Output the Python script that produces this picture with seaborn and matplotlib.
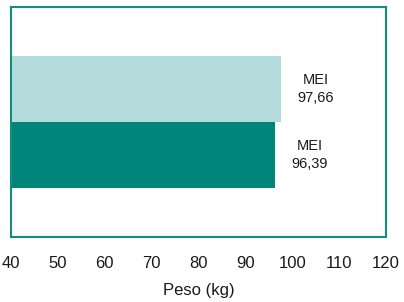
import pandas as pd
import seaborn as sns
import matplotlib.pyplot as plt

grupos = ["A", "B"]
pesos = [97.66, 96.39]
etiquetas = ["MEI\n97,66", "MEI\n96,39"]
cores = ["#b4dcdc", "#00857a"]
ticks = [40, 50, 60, 70, 80, 90, 100, 110, 120]

df = pd.DataFrame({"grupo": grupos, "peso": pesos})

sns.set_style("white")
plt.rcParams["font.family"] = ["Liberation Sans", "DejaVu Sans"]

fig = plt.figure(figsize=(4.04, 3.02), dpi=100)
ax = fig.add_axes([11 / 404, 1 - 237 / 302, 375 / 404, 230 / 302])

sns.barplot(data=df, x="peso", y="grupo", hue="grupo", palette=cores,
            width=1.0, saturation=1, linewidth=0, legend=False, ax=ax,
            orient="h")

ax.set_xlim(40, 120)
ax.set_ylim(2.24, -1.24)
ax.set_xticks(ticks)
ax.set_yticks([])
ax.set_ylabel("")
ax.set_xlabel("Peso (kg)", fontsize=12, color="#1a1a1a", labelpad=8)
ax.tick_params(axis="x", direction="out", length=5, width=1.2,
               color="#148c82", labelsize=12, labelcolor="#1a1a1a", pad=9)

for s in ax.spines.values():
    s.set_color("#148c82")
    s.set_linewidth(1.5)

# etiquetas a la derecha de cada barra
for i, (v, t) in enumerate(zip(pesos, etiquetas)):
    ax.text(v + 7.3, i, t, ha="center", va="center", fontsize=10.5,
            color="#1a1a1a", linespacing=1.3)

fig.savefig("out.png", dpi=100)
